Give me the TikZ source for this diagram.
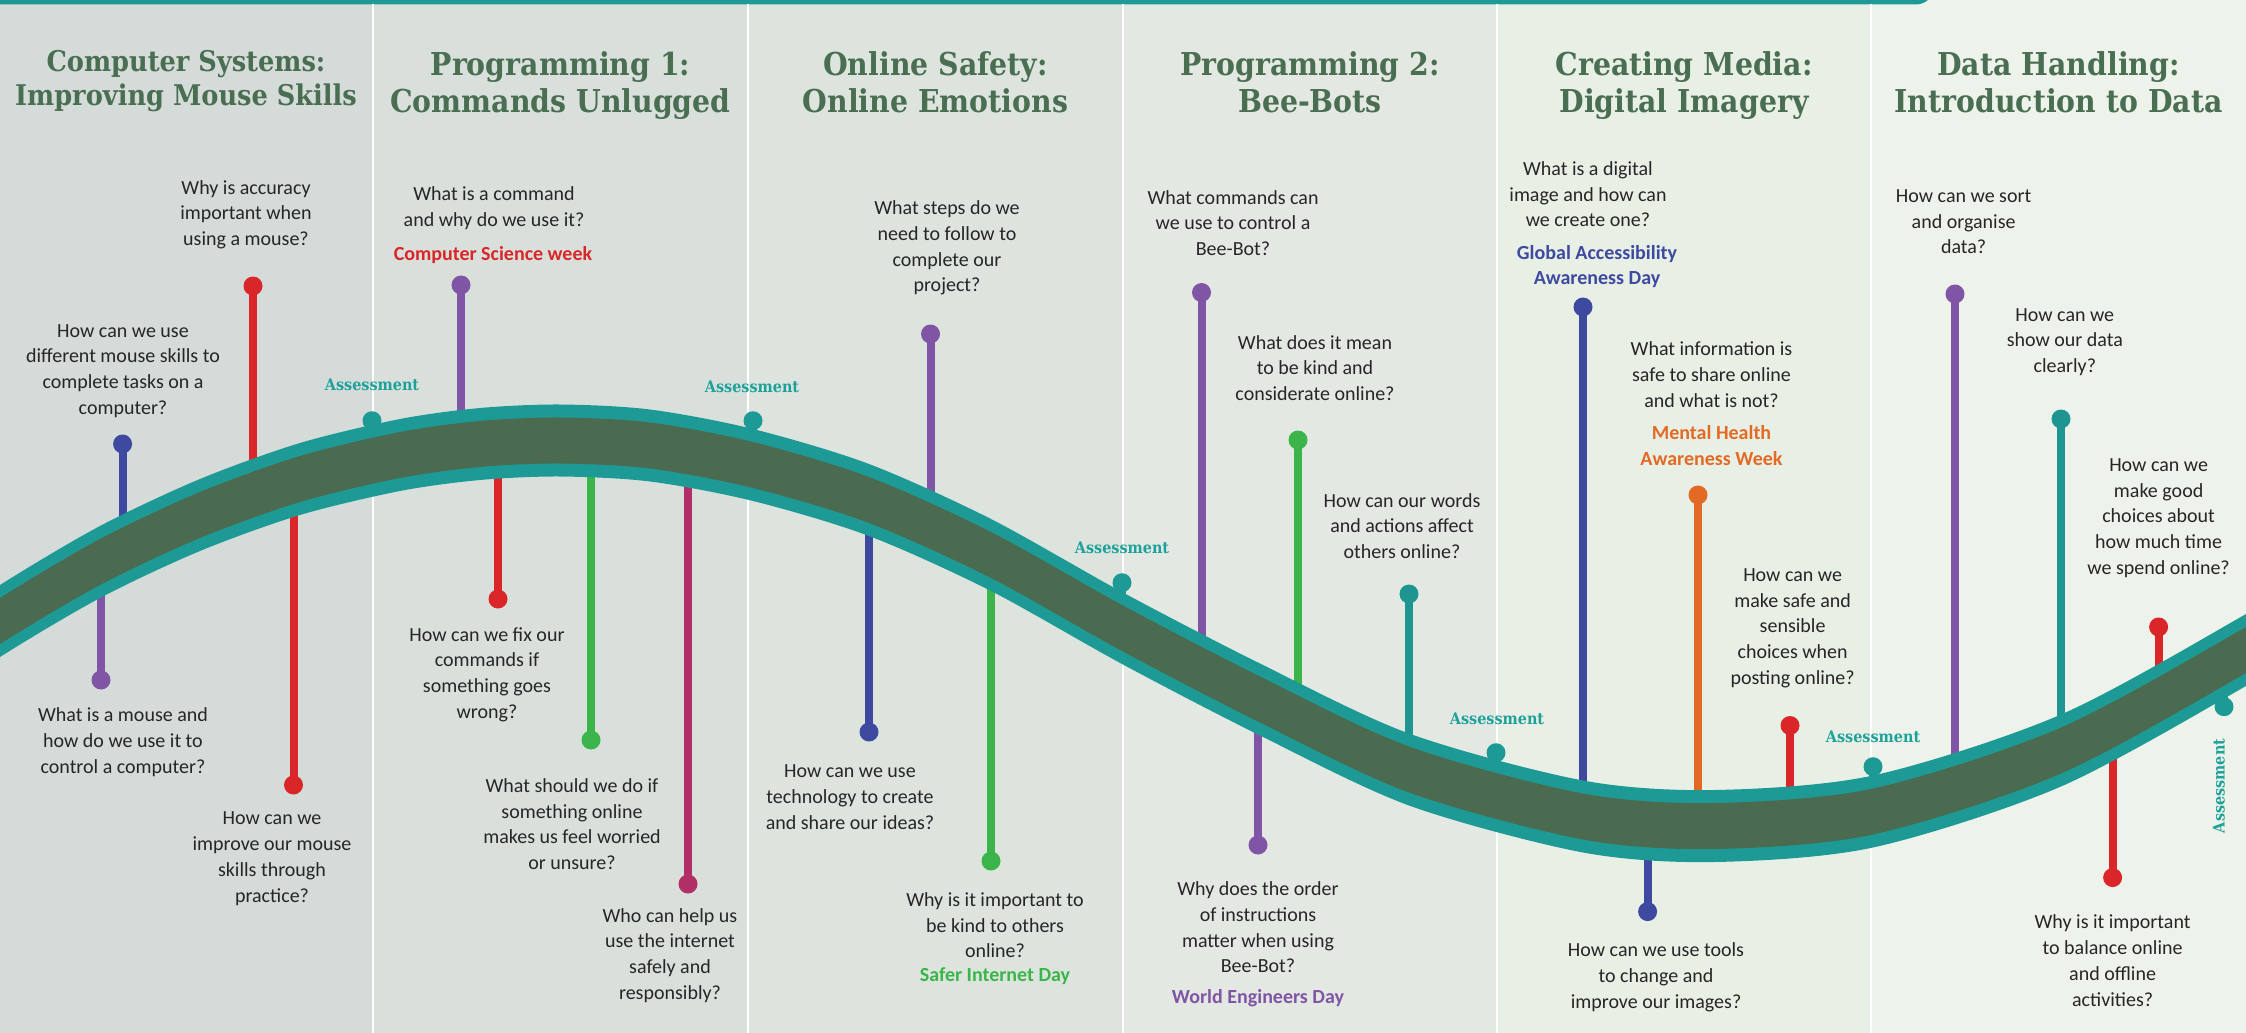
\documentclass[tikz,border=0pt]{standalone}
\usepackage{fontspec}
\setmainfont{Carlito}
\newfontfamily\titlefont[FakeStretch=0.9]{DejaVu Serif}
\definecolor{bandteal}{HTML}{1E9A96}
\definecolor{bandgreen}{HTML}{4A6B4F}
\definecolor{titlecol}{HTML}{4A6E52}
\definecolor{qcol}{HTML}{262626}
\definecolor{assesscol}{HTML}{1FA19B}
\definecolor{colA}{HTML}{D4DBD9}
\definecolor{colB}{HTML}{D9E0DC}
\definecolor{colC}{HTML}{DDE4DE}
\definecolor{colD}{HTML}{E3E9E2}
\definecolor{colE}{HTML}{E8EFE5}
\definecolor{colF}{HTML}{EDF3EA}
\definecolor{pred}{HTML}{DA2628}
\definecolor{ppurple}{HTML}{8155A5}
\definecolor{pblue}{HTML}{3D4A9F}
\definecolor{pgreen}{HTML}{3BB54A}
\definecolor{pmagenta}{HTML}{B12E67}
\definecolor{pteal}{HTML}{1E9590}
\definecolor{porange}{HTML}{E36A25}
\newcommand{\lolli}[5]{%
  \coordinate (#1-dot) at (#3,#4);
  \coordinate (#1-end) at (#3,#5);
  \draw[pinline,#2] (#1-dot) -- (#1-end);
  \fill[#2] (#1-dot) circle (9.5pt);
}
% band region between centre+#2 (upper edge) and centre+#3 (lower edge)
\newcommand{\bandfill}[3]{%
  \fill[#1] plot[smooth] coordinates {(-80,{676+#2}) (0,{621+#2}) (100,{562+#2}) (200,{515+#2}) (300,{479+#2}) (400,{455+#2}) (480,{444+#2}) (560,{440.5+#2}) (650,{445.5+#2}) (753,{465+#2}) (869,{500+#2}) (991,{555+#2}) (1122,{628+#2}) (1258,{698.5+#2}) (1409,{769.5+#2}) (1583,{816.5+#2}) (1714,{826+#2}) (1873,{811.5+#2}) (2061,{750.5+#2}) (2246,{650+#2}) (2330,{598+#2})}
  -- plot[smooth] coordinates {(2330,{598+#3}) (2246,{650+#3}) (2061,{750.5+#3}) (1873,{811.5+#3}) (1714,{826+#3}) (1583,{816.5+#3}) (1409,{769.5+#3}) (1258,{698.5+#3}) (1122,{628+#3}) (991,{555+#3}) (869,{500+#3}) (753,{465+#3}) (650,{445.5+#3}) (560,{440.5+#3}) (480,{444+#3}) (400,{455+#3}) (300,{479+#3}) (200,{515+#3}) (100,{562+#3}) (0,{621+#3}) (-80,{676+#3})} -- cycle;
}
\begin{document}
\begin{tikzpicture}[x=1pt,y=-1pt,
  qtext/.style={font=\fontsize{20}{25.7}\selectfont, text=qcol, align=center, inner sep=0pt},
  evtext/.style={font=\fontsize{20}{25.7}\selectfont\bfseries, align=center, inner sep=0pt},
  ttl/.style={font=\titlefont\fontsize{31.5}{37}\selectfont\bfseries, text=titlecol, inner sep=0pt, anchor=base},
  ttlA/.style={ttl, font=\titlefont\fontsize{28.5}{34}\selectfont\bfseries},
  asst/.style={font=\titlefont\fontsize{16}{19}\selectfont\bfseries, text=assesscol, inner sep=0pt},
  pinline/.style={line width=8pt},
  sep/.style={white, line width=2pt}
]
\useasboundingbox (0,0) rectangle (2246,1033);
\clip (0,0) rectangle (2246,1033);
% column backgrounds
\fill[colA] (0,0) rectangle (373,1033);
\fill[colB] (373,0) rectangle (748,1033);
\fill[colC] (748,0) rectangle (1123,1033);
\fill[colD] (1123,0) rectangle (1497,1033);
\fill[colE] (1497,0) rectangle (1871,1033);
\fill[colF] (1871,0) rectangle (2246,1033);
% top bar
\fill[bandteal, rounded corners=18pt] (-40,-40) rectangle (1934,4.5);
% separators
\draw[sep] (373,4) -- (373,1033);
\draw[sep] (748,4) -- (748,1033);
\draw[sep] (1123,4) -- (1123,1033);
\draw[sep] (1497,4) -- (1497,1033);
\draw[sep] (1871,4) -- (1871,1033);
% stems
\lolli{s1}{pblue}{122.6}{444}{551}
\lolli{s2}{ppurple}{101}{680}{560}
\lolli{s3}{pred}{253}{286}{496}
\lolli{s4}{pred}{293.5}{785}{479}
\lolli{s5}{ppurple}{461}{285}{447}
\lolli{s6}{pred}{498}{599}{443}
\lolli{s7}{pgreen}{591}{740}{441}
\lolli{s8}{pmagenta}{688}{884}{451}
\lolli{s9}{ppurple}{930.5}{334}{526}
\lolli{s10}{pblue}{869}{732}{500}
\lolli{s11}{pgreen}{991}{861}{555}
\lolli{s12}{ppurple}{1201.5}{292.5}{668}
\lolli{s13}{pgreen}{1298}{440}{721}
\lolli{s14}{pteal}{1409}{594}{769}
\lolli{s15}{ppurple}{1258}{845}{698}
\lolli{s16}{pblue}{1583}{307}{816}
\lolli{s17}{porange}{1698}{495}{825}
\lolli{s18}{pred}{1790}{725.5}{821}
\lolli{s19}{pblue}{1647.6}{911.6}{823}
\lolli{s20}{ppurple}{1955}{294}{789}
\lolli{s21}{pteal}{2061}{419}{750}
\lolli{s22}{pred}{2158.6}{627}{704}
\lolli{s23}{pred}{2112.6}{877.6}{723}
% assessment pins
\lolli{a1}{bandteal}{372}{420.7}{461}
\lolli{a2}{bandteal}{753}{420.7}{465}
\lolli{a3}{bandteal}{1122}{582.7}{628}
\lolli{a4}{bandteal}{1496}{752.7}{796}
\lolli{a5}{bandteal}{1873}{766.7}{811}
\lolli{a6}{bandteal}{2224}{706.7}{664}
% band
\bandfill{bandteal}{-36}{36}
\bandfill{bandgreen}{-23}{23}
% titles
\node[ttlA] (t1a) at (186,71) {Computer Systems:};
\node[ttlA] (t1b) at (186,105.5) {Improving Mouse Skills};
\node[ttl] (t2a) at (560.5,75) {Programming 1:};
\node[ttl] (t2b) at (560.5,112) {Commands Unlugged};
\node[ttl] (t3a) at (935.5,75) {Online Safety:};
\node[ttl] (t3b) at (935.5,112) {Online Emotions};
\node[ttl] (t4a) at (1310,75) {Programming 2:};
\node[ttl] (t4b) at (1310,112) {Bee-Bots};
\node[ttl] (t5a) at (1684,75) {Creating Media:};
\node[ttl] (t5b) at (1684,112) {Digital Imagery};
\node[ttl] (t6a) at (2058.5,75) {Data Handling:};
\node[ttl] (t6b) at (2058.5,112) {Introduction to Data};
% assessment labels
\node[asst] (l1) at (372,385) {Assessment};
\node[asst] (l2) at (752,387) {Assessment};
\node[asst] (l3) at (1122,548) {Assessment};
\node[asst] (l4) at (1497,719) {Assessment};
\node[asst] (l5) at (1873,737) {Assessment};
\node[asst, rotate=90] (l6) at (2219,786) {Assessment};
% questions
\node[qtext] (q1) at (246,214.7) {Why is accuracy\\important when\\using a mouse?};
\node[qtext] (q2) at (123,371) {How can we use\\different mouse skills to\\complete tasks on a\\computer?};
\node[qtext] (q3) at (123,742) {What is a mouse and\\how do we use it to\\control a computer?};
\node[qtext] (q4) at (272,858.7) {How can we\\improve our mouse\\skills through\\practice?};
\node[qtext] (q5) at (494,208) {What is a command\\and why do we use it?};
\node[evtext, text=pred] (e1) at (493,255) {Computer Science week};
\node[qtext] (q6) at (487,674.5) {How can we fix our\\commands if\\something goes\\wrong?};
\node[qtext] (q7) at (572,824) {What should we do if\\something online\\makes us feel worried\\or unsure?};
\node[qtext] (q8) at (670,955.5) {Who can help us\\use the internet\\safely and\\responsibly?};
\node[qtext] (q9) at (947,248) {What steps do we\\need to follow to\\complete our\\project?};
\node[qtext] (q10) at (850,797) {How can we use\\technology to create\\and share our ideas?};
\node[qtext] (q11) at (995,925.3) {Why is it important to\\be kind to others\\online?};
\node[evtext, text=pgreen] (e2) at (995,976) {Safer Internet Day};
\node[qtext] (q12) at (1233,223) {What commands can\\we use to control a\\Bee-Bot?};
\node[qtext] (q13) at (1315,368) {What does it mean\\to be kind and\\considerate online?};
\node[qtext] (q14) at (1402,526) {How can our words\\and actions affect\\others online?};
\node[qtext] (q15) at (1258,927.5) {Why does the order\\of instructions\\matter when using\\Bee-Bot?};
\node[evtext, text=ppurple] (e3) at (1258,998) {World Engineers Day};
\node[qtext] (q16) at (1588,194.3) {What is a digital\\image and how can\\we create one?};
\node[evtext, text=pblue] (e4) at (1597,266.5) {Global Accessibility\\Awareness Day};
\node[qtext] (q17) at (1711.5,374.7) {What information is\\safe to share online\\and what is not?};
\node[evtext, text=porange] (e5) at (1711.5,445.8) {Mental Health\\Awareness Week};
\node[qtext] (q18) at (1792.6,628) {How can we\\make safe and\\sensible\\choices when\\posting online?};
\node[qtext] (q19) at (1656,977.3) {How can we use tools\\to change and\\improve our images?};
\node[qtext] (q20) at (1963.6,221.9) {How can we sort\\and organise\\data?};
\node[qtext] (q21) at (2064.8,342) {How can we\\show our data\\clearly?};
\node[qtext] (q22) at (2158.6,518) {How can we\\make good\\choices about\\how much time\\we spend online?};
\node[qtext] (q23) at (2112.6,960.6) {Why is it important\\to balance online\\and offline\\activities?};
\end{tikzpicture}
\end{document}
